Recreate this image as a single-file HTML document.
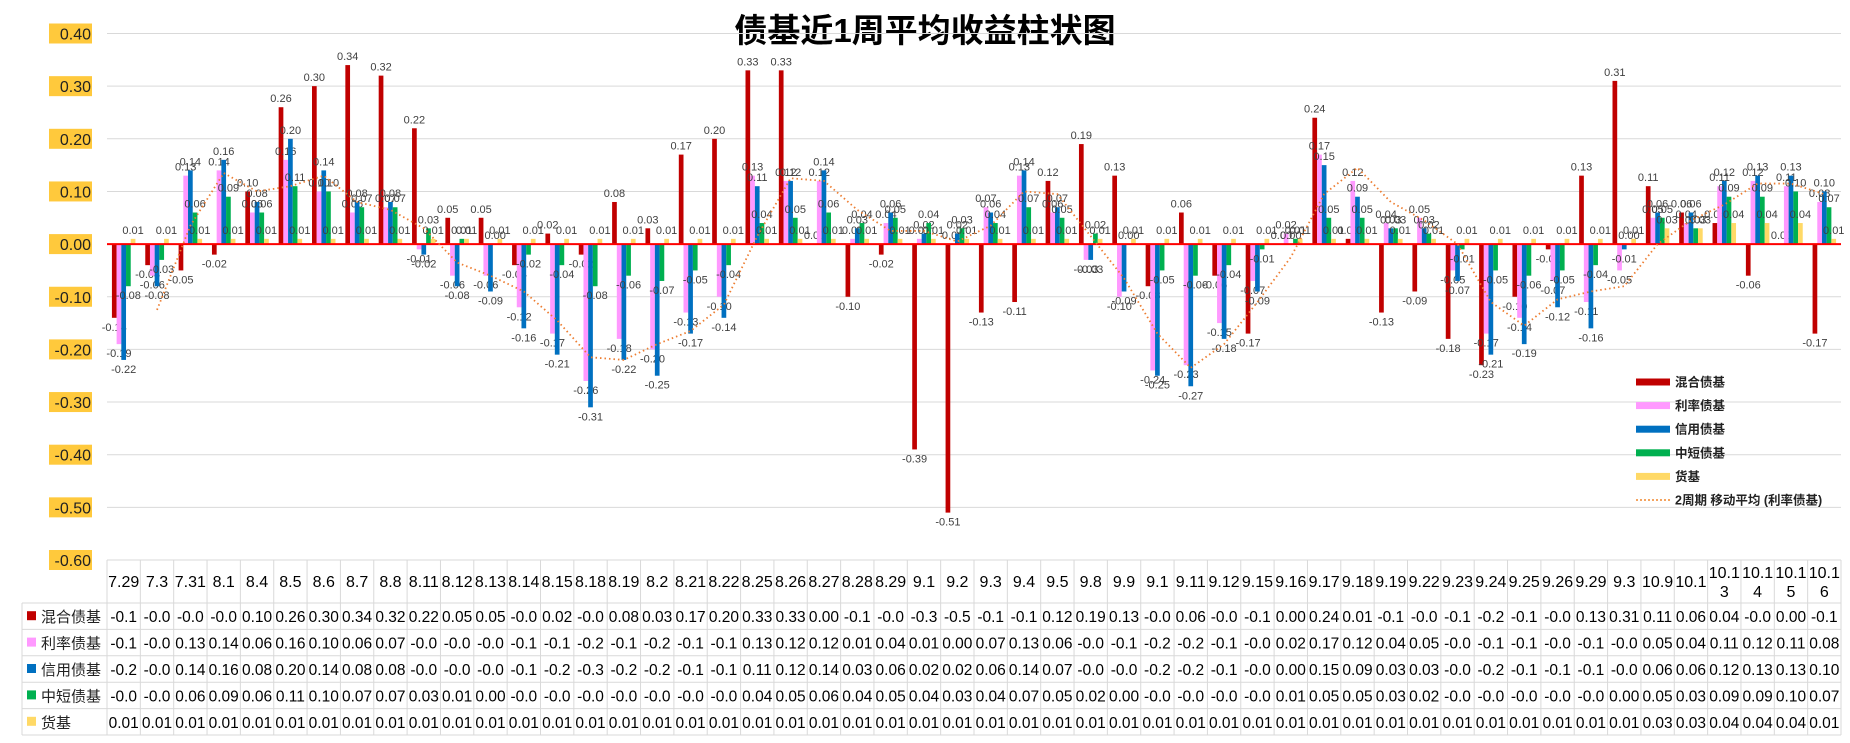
<!DOCTYPE html>
<html><head><meta charset="utf-8"><style>
body{margin:0;background:#fff;width:1850px;height:743px;overflow:hidden}
svg{display:block;font-family:"Liberation Sans","Noto Sans CJK SC",sans-serif}
</style></head><body>
<svg id="c" width="1850" height="743"></svg>
<script>
const categories=["7.29","7.3","7.31","8.1","8.4","8.5","8.6","8.7","8.8","8.11","8.12","8.13","8.14","8.15","8.18","8.19","8.2","8.21","8.22","8.25","8.26","8.27","8.28","8.29","9.1","9.2","9.3","9.4","9.5","9.8","9.9","9.1","9.11","9.12","9.15","9.16","9.17","9.18","9.19","9.22","9.23","9.24","9.25","9.26","9.29","9.3","10.9","10.1","10.13","10.14","10.15","10.16"];
const mixed=[-0.14,-0.04,-0.05,-0.02,0.10,0.26,0.30,0.34,0.32,0.22,0.05,0.05,-0.04,0.02,-0.02,0.08,0.03,0.17,0.20,0.33,0.33,0.00,-0.10,-0.02,-0.39,-0.51,-0.13,-0.11,0.12,0.19,0.13,-0.08,0.06,-0.06,-0.17,0.00,0.24,0.01,-0.13,-0.09,-0.18,-0.23,-0.10,-0.01,0.13,0.31,0.11,0.06,0.04,-0.06,0.00,-0.17];
const rate=[-0.19,-0.06,0.13,0.14,0.06,0.16,0.10,0.06,0.07,-0.01,-0.06,-0.06,-0.12,-0.17,-0.26,-0.18,-0.20,-0.13,-0.10,0.13,0.12,0.12,0.01,0.04,0.01,0.00,0.07,0.13,0.06,-0.03,-0.10,-0.24,-0.23,-0.15,-0.07,0.02,0.17,0.12,0.04,0.05,-0.05,-0.17,-0.14,-0.07,-0.11,-0.05,0.05,0.04,0.11,0.12,0.11,0.08];
const credit=[-0.22,-0.08,0.14,0.16,0.08,0.20,0.14,0.08,0.08,-0.02,-0.08,-0.09,-0.16,-0.21,-0.31,-0.22,-0.25,-0.17,-0.14,0.11,0.12,0.14,0.03,0.06,0.02,0.02,0.06,0.14,0.07,-0.03,-0.09,-0.25,-0.27,-0.18,-0.09,0.00,0.15,0.09,0.03,0.03,-0.07,-0.21,-0.19,-0.12,-0.16,-0.01,0.06,0.06,0.12,0.13,0.13,0.10];
const shortb=[-0.08,-0.03,0.06,0.09,0.06,0.11,0.10,0.07,0.07,0.03,0.01,0.00,-0.02,-0.04,-0.08,-0.06,-0.07,-0.05,-0.04,0.04,0.05,0.06,0.04,0.05,0.04,0.03,0.04,0.07,0.05,0.02,0.00,-0.05,-0.06,-0.04,-0.01,0.01,0.05,0.05,0.03,0.02,-0.01,-0.05,-0.06,-0.05,-0.04,0.00,0.05,0.03,0.09,0.09,0.10,0.07];
const money=[0.01,0.01,0.01,0.01,0.01,0.01,0.01,0.01,0.01,0.01,0.01,0.01,0.01,0.01,0.01,0.01,0.01,0.01,0.01,0.01,0.01,0.01,0.01,0.01,0.01,0.01,0.01,0.01,0.01,0.01,0.01,0.01,0.01,0.01,0.01,0.01,0.01,0.01,0.01,0.01,0.01,0.01,0.01,0.01,0.01,0.01,0.03,0.03,0.04,0.04,0.04,0.01];
const seriesNames=["混合债基","利率债基","信用债基","中短债基","货基"];
const yTicks=[0.4,0.3,0.2,0.1,0,-0.1,-0.2,-0.3,-0.4,-0.5,-0.6];

const colors=["#C00000","#FF99FF","#0070C0","#00B050","#FFD966"];
const series=[mixed,rate,credit,shortb,money];
const svg=document.getElementById('c');const NS="http://www.w3.org/2000/svg";
function el(t,a,txt){const e=document.createElementNS(NS,t);for(const k in a)e.setAttribute(k,a[k]);if(txt!==undefined)e.textContent=txt;svg.appendChild(e);return e;}
const x0=107,x1=1841,n=categories.length,cw=(x1-x0)/n;
const yTop=33.5,yBot=560,vMax=0.4,vMin=-0.6;
function y(v){return yTop+(vMax-v)/(vMax-vMin)*(yBot-yTop);}
function xc(i){return x0+cw*(i+0.5);}
// title
let t=el('text',{x:925,y:42,'text-anchor':'middle','font-size':33,'font-weight':'bold',fill:'#000'},'债基近1周平均收益柱状图');

// grid + y labels
yTicks.forEach(v=>{
 if(v!==0&&v!==-0.6){const g=el('line',{x1:x0,x2:x1,y1:y(v),y2:y(v),stroke:'#d9d9d9','stroke-width':1});}
 const r=el('rect',{x:49,y:y(v)-10,width:43,height:20,fill:'#FFC93C'});
 const l=el('text',{x:91,y:y(v)+6,'text-anchor':'end','font-size':16,fill:'#222'},v.toFixed(2));
});
// bars
const bw=4.7;
series.forEach((s,k)=>{s.forEach((v,i)=>{
 const bx=xc(i)-bw*2.5+k*bw;const y1=y(Math.max(v,0)),y2=y(Math.min(v,0));
 const b=el('rect',{x:bx,y:y1,width:bw,height:Math.max(y2-y1,0.5),fill:colors[k]});
 
 const ly=v>=0?y1-5:y2+13;
 const lb=el('text',{x:bx+bw/2,y:ly,'text-anchor':'middle','font-size':11,fill:'#404040'},v.toFixed(2));
 
});});
// zero line
const z=el('line',{x1:x0,x2:x1,y1:y(0),y2:y(0),stroke:'#FF0000','stroke-width':2});
// moving average of rate
let pts=[];for(let i=1;i<n;i++){pts.push(xc(i)+','+y((rate[i]+rate[i-1])/2));}
const ma=el('polyline',{points:pts.join(' '),fill:'none',stroke:'#ED7D31','stroke-width':1.8,'stroke-dasharray':'1.5 3'});

// legend
const lnames=seriesNames.concat(['2周期 移动平均 (利率债基)']);
lnames.forEach((nm,k)=>{const ly=382+k*23.6;
 if(k<5){const s=el('rect',{x:1636,y:ly-3.5,width:34,height:7,fill:colors[k]});}
 else{const s=el('line',{x1:1636,x2:1670,y1:ly,y2:ly,stroke:'#F4A460','stroke-width':2,'stroke-dasharray':'2 2'});}
 const tx=el('text',{x:1675,y:ly+4.5,'font-size':12.5,'font-weight':'bold',fill:'#222'},nm);
});
// table
const tTop=560,hH=43,rH=26.4,tL=22;
function hl(x1_,x2_,yy){const l=el('line',{x1:x1_,x2:x2_,y1:yy,y2:yy,stroke:'#d9d9d9','stroke-width':1});}
function vl(xx,y1_,y2_){const l=el('line',{x1:xx,x2:xx,y1:y1_,y2:y2_,stroke:'#d9d9d9','stroke-width':1});}
hl(x0,x1,tTop);
for(let r=0;r<=5;r++)hl(tL,x1,tTop+hH+r*rH);
vl(tL,tTop+hH,tTop+hH+5*rH);
for(let i=0;i<=n;i++)vl(x0+i*cw,tTop,tTop+hH+5*rH);
categories.forEach((c,i)=>{
 if(c.length>4){
  const a=el('text',{x:xc(i),y:tTop+18,'text-anchor':'middle','font-size':16,fill:'#000'},c.slice(0,4));
  const b=el('text',{x:xc(i),y:tTop+37,'text-anchor':'middle','font-size':16,fill:'#000'},c.slice(4));
 }else{const a=el('text',{x:xc(i),y:tTop+27,'text-anchor':'middle','font-size':16,fill:'#000'},c);}
});
function fmt(v){if(v>=0)return v.toFixed(2);const tr=Math.trunc(v*10)/10;return '-'+Math.abs(tr).toFixed(1);}
series.forEach((s,k)=>{const ry=tTop+hH+k*rH+rH/2+6;
 const sw=el('rect',{x:27,y:ry-11,width:9,height:9,fill:colors[k]});
 const nm=el('text',{x:41,y:ry,'font-size':15,fill:'#222'},seriesNames[k]);
 s.forEach((v,i)=>{const c=el('text',{x:xc(i),y:ry,'text-anchor':'middle','font-size':15.5,fill:'#000'},fmt(v));});
});
</script>
</body></html>
